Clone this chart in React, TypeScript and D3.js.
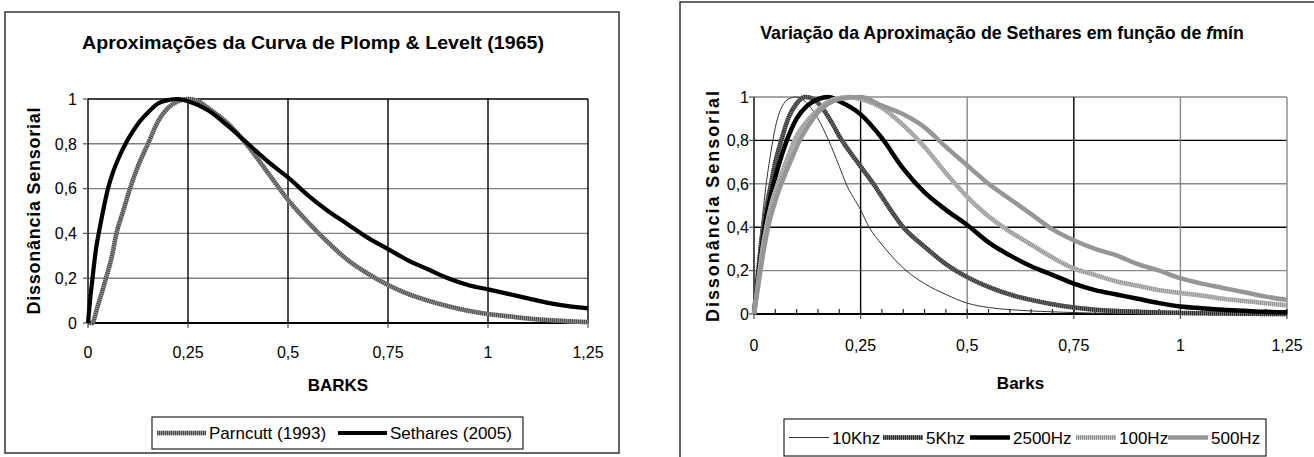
import React from "react";
import * as d3 from "d3";

const FONT = '"Liberation Sans", Arial, Helvetica, sans-serif';

// tick labels (decimal comma, as in the original)
const xTicks = [0, 0.25, 0.5, 0.75, 1, 1.25];
const yTicks = [0, 0.2, 0.4, 0.6, 0.8, 1];
const xMinorTicks = d3.range(0, 1.2501, 0.05);
const fmt = (v: number) => String(+v.toFixed(2)).replace(".", ",");

// left chart: approximations of the Plomp & Levelt curve  [barks, dissonance]
const parncutt: [number, number][] = [
  [0, 0], [0.01, 0], [0.025, 0.08], [0.045, 0.2], [0.06, 0.3], [0.071, 0.4], [0.088, 0.5],
  [0.105, 0.6], [0.125, 0.7], [0.15, 0.8], [0.175, 0.9], [0.2, 0.96], [0.225, 0.99],
  [0.25, 1], [0.275, 0.99], [0.3, 0.96], [0.35, 0.89], [0.4, 0.79], [0.45, 0.67],
  [0.5, 0.55], [0.55, 0.45], [0.6, 0.36], [0.65, 0.28], [0.7, 0.22], [0.75, 0.17],
  [0.8, 0.13], [0.85, 0.1], [0.9, 0.075], [0.95, 0.055], [1, 0.04], [1.05, 0.03],
  [1.1, 0.02], [1.15, 0.013], [1.2, 0.008], [1.25, 0.004],
];
const sethares: [number, number][] = [
  [0, 0], [0.005, 0.1], [0.01, 0.18], [0.02, 0.33], [0.03, 0.43], [0.04, 0.52],
  [0.05, 0.6], [0.06, 0.66], [0.08, 0.75], [0.1, 0.82], [0.125, 0.89], [0.15, 0.94],
  [0.175, 0.98], [0.2, 0.995], [0.225, 1], [0.25, 0.99], [0.3, 0.95], [0.35, 0.88],
  [0.4, 0.8], [0.45, 0.72], [0.5, 0.65], [0.55, 0.57], [0.6, 0.5], [0.65, 0.44],
  [0.7, 0.38], [0.75, 0.33], [0.8, 0.28], [0.85, 0.24], [0.9, 0.2], [0.95, 0.17],
  [1, 0.15], [1.05, 0.13], [1.1, 0.11], [1.15, 0.09], [1.2, 0.075], [1.25, 0.065],
];

// right chart: Sethares approximation for several f min
const khz10: [number, number][] = [
  [0, 0], [0.01, 0.25], [0.02, 0.45], [0.03, 0.62], [0.04, 0.75], [0.05, 0.86],
  [0.06, 0.93], [0.07, 0.97], [0.08, 0.99], [0.1, 1], [0.12, 0.98], [0.15, 0.9],
  [0.175, 0.8], [0.2, 0.68], [0.216, 0.6], [0.25, 0.48], [0.27, 0.4], [0.3, 0.32],
  [0.357, 0.2], [0.4, 0.14], [0.45, 0.09], [0.5, 0.05], [0.55, 0.03], [0.6, 0.02],
  [0.7, 0.01], [0.8, 0.004], [0.9, 0.001], [1, 0], [1.25, 0],
];
const khz5: [number, number][] = [
  [0, 0], [0.01, 0.2], [0.02, 0.38], [0.03, 0.5], [0.04, 0.6], [0.05, 0.7], [0.064, 0.8],
  [0.08, 0.9], [0.1, 0.97], [0.12, 1], [0.14, 0.99], [0.16, 0.95], [0.18, 0.89],
  [0.2, 0.82], [0.25, 0.68], [0.28, 0.6], [0.3, 0.54], [0.35, 0.4], [0.4, 0.31],
  [0.45, 0.23], [0.5, 0.17], [0.55, 0.125], [0.6, 0.09], [0.65, 0.065], [0.7, 0.045],
  [0.75, 0.03], [0.8, 0.02], [0.9, 0.01], [1, 0.005], [1.1, 0.002], [1.25, 0],
];
const hz2500: [number, number][] = [
  [0, 0], [0.01, 0.17], [0.025, 0.4], [0.046, 0.6], [0.06, 0.7], [0.077, 0.8], [0.1, 0.9],
  [0.125, 0.96], [0.15, 0.99], [0.175, 1], [0.2, 0.98], [0.25, 0.92], [0.3, 0.81],
  [0.35, 0.67], [0.4, 0.56], [0.45, 0.48], [0.5, 0.41], [0.55, 0.33], [0.6, 0.27],
  [0.65, 0.22], [0.7, 0.18], [0.75, 0.14], [0.8, 0.11], [0.85, 0.09], [0.9, 0.07],
  [0.95, 0.05], [1, 0.035], [1.05, 0.027], [1.1, 0.02], [1.15, 0.015], [1.2, 0.01], [1.25, 0.008],
];
const hz100: [number, number][] = [
  [0, 0], [0.01, 0.15], [0.02, 0.3], [0.03, 0.41], [0.04, 0.5], [0.056, 0.6], [0.075, 0.7],
  [0.095, 0.8], [0.125, 0.89], [0.15, 0.94], [0.175, 0.98], [0.2, 0.995], [0.225, 1],
  [0.25, 0.99], [0.3, 0.95], [0.35, 0.87], [0.4, 0.77], [0.45, 0.65], [0.5, 0.54],
  [0.55, 0.45], [0.6, 0.38], [0.65, 0.32], [0.7, 0.26], [0.75, 0.21], [0.8, 0.18],
  [0.85, 0.15], [0.9, 0.13], [0.95, 0.11], [1, 0.097], [1.05, 0.085], [1.1, 0.07],
  [1.15, 0.06], [1.2, 0.05], [1.25, 0.04],
];
const hz500: [number, number][] = [
  [0, 0], [0.01, 0.13], [0.02, 0.26], [0.033, 0.4], [0.05, 0.52], [0.064, 0.6], [0.085, 0.7],
  [0.107, 0.8], [0.125, 0.86], [0.15, 0.93], [0.175, 0.97], [0.2, 0.99], [0.25, 1],
  [0.3, 0.96], [0.35, 0.92], [0.4, 0.86], [0.45, 0.77], [0.5, 0.685], [0.55, 0.6],
  [0.6, 0.53], [0.65, 0.46], [0.7, 0.39], [0.75, 0.34], [0.8, 0.3], [0.85, 0.27],
  [0.9, 0.23], [0.95, 0.2], [1, 0.165], [1.05, 0.14], [1.1, 0.12], [1.15, 0.1],
  [1.2, 0.08], [1.25, 0.065],
];

type Style = { color: string; width: number; dash?: string; dashColor?: string };
type Series = { name: string; data: [number, number][]; style: Style; legendX: number };

const TEX = "1 1";

const leftSeries: Series[] = [
  { name: "Parncutt (1993)", data: parncutt, style: { color: "#999", width: 4.5, dash: TEX, dashColor: "#444" }, legendX: 157 },
  { name: "Sethares (2005)", data: sethares, style: { color: "#000", width: 4.2 }, legendX: 338 },
];
const rightSeries: Series[] = [
  { name: "10Khz", data: khz10, style: { color: "#333", width: 1 }, legendX: 789 },
  { name: "5Khz", data: khz5, style: { color: "#777", width: 4.5, dash: TEX, dashColor: "#2a2a2a" }, legendX: 883 },
  { name: "2500Hz", data: hz2500, style: { color: "#000", width: 4.5 }, legendX: 970 },
  { name: "100Hz", data: hz100, style: { color: "#c8c8c8", width: 4.5, dash: TEX, dashColor: "#8c8c8c" }, legendX: 1076 },
  { name: "500Hz", data: hz500, style: { color: "#969696", width: 4.5 }, legendX: 1168 },
];

function SeriesPath({ d, style }: { d: string; style: Style }) {
  return (
    <g fill="none" strokeLinejoin="round">
      <path d={d} stroke={style.color} strokeWidth={style.width} />
      {style.dash && <path d={d} stroke={style.dashColor} strokeWidth={style.width} strokeDasharray={style.dash} />}
    </g>
  );
}

type PanelProps = {
  box: { x: number; y: number; w: number; h: number };
  plot: { x0: number; x1: number; y0: number; y1: number };
  title: React.ReactNode;
  titleX: number;
  titleY: number;
  titleSize: number;
  titleLen?: number;
  yLabel: { x: number; len: number; spacing: number };
  yTickX: number;
  xTickY: number;
  xLabel: string;
  xLabelY: number;
  legend: { x0: number; x1: number; y0: number; y1: number; line: number };
  series: Series[];
  hGridColors: string[];
  vGridColors: string[];
  minorTicks?: boolean;
};

function Panel(p: PanelProps) {
  const x = d3.scaleLinear().domain([0, 1.25]).range([p.plot.x0, p.plot.x1]);
  const y = d3.scaleLinear().domain([0, 1]).range([p.plot.y1, p.plot.y0]);
  const line = d3
    .line<[number, number]>()
    .x((d) => x(d[0]))
    .y((d) => y(d[1]))
    .curve(d3.curveMonotoneX);
  const cx = (p.plot.x0 + p.plot.x1) / 2;
  const cy = (p.plot.y0 + p.plot.y1) / 2;
  const legCy = (p.legend.y0 + p.legend.y1) / 2;

  return (
    <g fontFamily={FONT} fill="#000">
      <rect x={p.box.x} y={p.box.y} width={p.box.w} height={p.box.h} fill="#fff" stroke="#333" strokeWidth={1.5} />
      <text x={p.titleX} y={p.titleY} textAnchor="middle" fontWeight="bold" fontSize={p.titleSize}
        textLength={p.titleLen} lengthAdjust={p.titleLen ? "spacingAndGlyphs" : undefined}>{p.title}</text>

      {/* grid */}
      {yTicks.slice(1).map((t, i) => (
        <line key={"h" + t} x1={p.plot.x0} x2={p.plot.x1} y1={y(t)} y2={y(t)} stroke={p.hGridColors[i]} strokeWidth={1.4} />
      ))}
      {xTicks.slice(1).map((t, i) => (
        <line key={"v" + t} x1={x(t)} x2={x(t)} y1={p.plot.y0} y2={p.plot.y1} stroke={p.vGridColors[i]} strokeWidth={1.4} />
      ))}

      {/* axes */}
      <line x1={p.plot.x0} x2={p.plot.x0} y1={p.plot.y0} y2={p.plot.y1} stroke="#000" strokeWidth={1.4} />
      <line x1={p.plot.x0} x2={p.plot.x1} y1={p.plot.y1} y2={p.plot.y1} stroke="#000" strokeWidth={1.8} />
      {yTicks.map((t) => (
        <line key={"yt" + t} x1={p.plot.x0 - 5} x2={p.plot.x0} y1={y(t)} y2={y(t)} stroke="#555" strokeWidth={1.2} />
      ))}
      {xTicks.map((t) => (
        <line key={"xt" + t} x1={x(t)} x2={x(t)} y1={p.plot.y1} y2={p.plot.y1 + 5} stroke="#555" strokeWidth={1.2} />
      ))}
      {p.minorTicks &&
        xMinorTicks.map((t) => (
          <line key={"mt" + t} x1={x(t)} x2={x(t)} y1={p.plot.y1 - 5} y2={p.plot.y1} stroke="#222" strokeWidth={1.2} />
        ))}
      {yTicks.map((t) => (
        <text key={"yl" + t} x={p.yTickX} y={y(t)} dy="0.36em" textAnchor="end" fontSize={16}>{fmt(t)}</text>
      ))}
      {xTicks.map((t) => (
        <text key={"xl" + t} x={x(t)} y={p.xTickY} dy="0.36em" textAnchor="middle" fontSize={16}>{fmt(t)}</text>
      ))}
      <text x={cx} y={p.xLabelY} dy="0.36em" textAnchor="middle" fontWeight="bold" fontSize={17}>{p.xLabel}</text>
      <text transform={`translate(${p.yLabel.x},${cy}) rotate(-90)`} dy="0.36em" textAnchor="middle" fontWeight="bold" fontSize={18}
        textLength={p.yLabel.len} lengthAdjust="spacing" letterSpacing={p.yLabel.spacing}>Dissonância Sensorial</text>

      {/* curves */}
      {p.series.map((s) => (
        <SeriesPath key={s.name} d={line(s.data) || ""} style={s.style} />
      ))}

      {/* legend */}
      <rect x={p.legend.x0} y={p.legend.y0} width={p.legend.x1 - p.legend.x0} height={p.legend.y1 - p.legend.y0} fill="#fff" stroke="#222" strokeWidth={1.2} />
      {p.series.map((s) => (
        <g key={"lg" + s.name}>
          <SeriesPath d={`M${s.legendX},${legCy}h${p.legend.line}`} style={s.style} />
          <text x={s.legendX + p.legend.line + 3} y={legCy} dy="0.36em" fontSize={17}>{s.name}</text>
        </g>
      ))}
    </g>
  );
}

export default function App() {
  return (
    <svg width={1314} height={457} style={{ position: "absolute", left: 0, top: 0, background: "#fff" }}>
      <Panel
        box={{ x: 5, y: 12, w: 614, h: 441 }}
        plot={{ x0: 88, x1: 588, y0: 99, y1: 323 }}
        title="Aproximações da Curva de Plomp & Levelt (1965)"
        titleX={313}
        titleY={49}
        titleSize={18}
        titleLen={462}
        yLabel={{ x: 34, len: 207, spacing: 0 }}
        yTickX={77}
        xTickY={352}
        xLabel="BARKS"
        xLabelY={385}
        legend={{ x0: 152, x1: 523, y0: 417, y1: 449, line: 49 }}
        series={leftSeries}
        hGridColors={["#808080", "#808080", "#808080", "#808080", "#000"]}
        vGridColors={["#000", "#000", "#000", "#000", "#000"]}
      />
      <Panel
        box={{ x: 680, y: 2, w: 700, h: 500 }}
        plot={{ x0: 754, x1: 1287, y0: 97, y1: 314 }}
        title={<>Variação da Aproximação de Sethares em função de <tspan fontStyle="italic">f</tspan>mín</>}
        titleX={1002}
        titleY={39}
        titleSize={17.8}
        yLabel={{ x: 713, len: 233, spacing: 2 }}
        yTickX={749}
        xTickY={345}
        xLabel="Barks"
        xLabelY={383}
        legend={{ x0: 784, x1: 1266, y0: 419, y1: 456, line: 40 }}
        series={rightSeries}
        hGridColors={["#888", "#000", "#888", "#000", "#888"]}
        vGridColors={["#000", "#888", "#000", "#888", "#888"]}
        minorTicks
      />
    </svg>
  );
}
